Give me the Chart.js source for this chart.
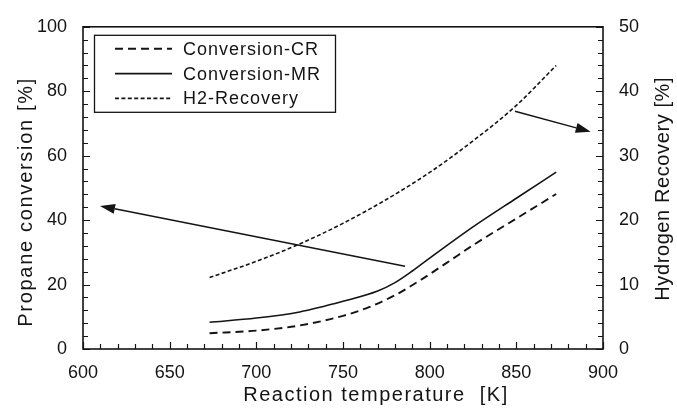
<!DOCTYPE html>
<html>
<head>
<meta charset="utf-8">
<script src="https://cdn.jsdelivr.net/npm/chart.js@4"></script>
<style>
  html, body { margin: 0; padding: 0; background: #fff; }
</style>
</head>
<body>
<canvas id="chart" width="677" height="408"></canvas>
<script>
// values
const tempsCR = [673, 700, 725, 750, 765, 780, 795, 810, 825, 850, 873];
const conversionCR = [4.9, 5.7, 7.3, 10.3, 13.0, 16.7, 21.5, 26.8, 32.2, 40.5, 48.1];
const tempsMR = [673, 700, 725, 750, 770, 780, 790, 800, 825, 850, 873];
const conversionMR = [8.3, 9.6, 11.5, 14.8, 18.0, 20.6, 24.2, 28.2, 37.9, 46.8, 54.9];
const tempsH2 = [673, 700, 725, 750, 775, 800, 825, 850, 873];
const h2Recovery = [11.1, 13.6, 16.3, 19.5, 23.2, 27.4, 32.3, 37.8, 44.0];

const seriesNames = ['Conversion-CR', 'Conversion-MR', 'H2-Recovery'];
const xTitle = 'Reaction temperature  [K]';
const leftTitle = 'Propane conversion [%]';
const rightTitle = 'Hydrogen Recovery [%]';

// arrows pointing at the axis each curve belongs to: [fromK, fromConv, toK, toConv]
const arrows = [
  [785.8, 25.7, 609.8, 44.4],
  [849.2, 73.8, 892.9, 67.4]
];

const FONT = '"Liberation Sans", Arial, sans-serif';
const INK = '#141414';

function points(xs, ys) {
  return xs.map((x, i) => ({x: x, y: ys[i]}));
}

function drawText(ctx, text, x, y, rot, size, spacing) {
  ctx.save();
  ctx.translate(x, y);
  ctx.rotate(rot);
  ctx.font = size + 'px ' + FONT;
  ctx.letterSpacing = spacing + 'px';
  ctx.textAlign = 'center';
  ctx.textBaseline = 'alphabetic';
  ctx.fillText(text, 0, 0);
  ctx.restore();
}

function arrow(ctx, x1, y1, x2, y2) {
  const ang = Math.atan2(y2 - y1, x2 - x1);
  const len = 15, half = 5;
  const bx = x2 - len * Math.cos(ang), by = y2 - len * Math.sin(ang);
  ctx.beginPath();
  ctx.moveTo(x1, y1);
  ctx.lineTo(bx, by);
  ctx.stroke();
  ctx.beginPath();
  ctx.moveTo(x2, y2);
  ctx.lineTo(bx + half * Math.sin(ang), by - half * Math.cos(ang));
  ctx.lineTo(bx - half * Math.sin(ang), by + half * Math.cos(ang));
  ctx.closePath();
  ctx.fill();
}

const chrome = {
  id: 'chrome',
  afterDraw(chart) {
    const {ctx, chartArea: a} = chart;
    const {x, y, y2} = chart.scales;
    ctx.save();
    ctx.strokeStyle = INK;
    ctx.fillStyle = INK;

    // frame
    ctx.lineWidth = 1.6;
    ctx.strokeRect(a.left, a.top, a.right - a.left, a.bottom - a.top);

    // tick marks pointing inward
    ctx.lineWidth = 1.2;
    ctx.beginPath();
    x.ticks.forEach(t => {
      const px = Math.round(x.getPixelForValue(t.value)) + 0.5;
      const len = t.value % 50 === 0 ? 7 : 5;
      ctx.moveTo(px, a.bottom);
      ctx.lineTo(px, a.bottom - len);
    });
    y.ticks.forEach(t => {
      const py = Math.round(y.getPixelForValue(t.value)) + 0.5;
      const len = t.value % 20 === 0 ? 7 : 5;
      ctx.moveTo(a.left, py);
      ctx.lineTo(a.left + len, py);
    });
    y2.ticks.forEach(t => {
      const py = Math.round(y2.getPixelForValue(t.value)) + 0.5;
      const len = t.value % 10 === 0 ? 7 : 5;
      ctx.moveTo(a.right, py);
      ctx.lineTo(a.right - len, py);
    });
    ctx.stroke();

    // arrows
    ctx.lineWidth = 1.5;
    arrows.forEach(r => {
      arrow(ctx, x.getPixelForValue(r[0]), y.getPixelForValue(r[1]),
        x.getPixelForValue(r[2]), y.getPixelForValue(r[3]));
    });

    // legend box
    const lx = a.left + 11, ly = a.top + 8, lw = 241, lh = 77;
    ctx.lineWidth = 1.3;
    ctx.strokeRect(lx + 0.5, ly + 0.5, lw, lh);
    chart.data.datasets.forEach((ds, i) => {
      const ry = ly + 14 + i * 24.8;
      ctx.save();
      ctx.lineWidth = ds.borderWidth;
      ctx.setLineDash(ds.borderDash || []);
      ctx.beginPath();
      ctx.moveTo(lx + 21, ry);
      ctx.lineTo(lx + 78, ry);
      ctx.stroke();
      ctx.restore();
      ctx.save();
      ctx.font = '18px ' + FONT;
      ctx.letterSpacing = '1px';
      ctx.textAlign = 'left';
      ctx.textBaseline = 'middle';
      ctx.fillText(ds.label, lx + 89, ry + 1);
      ctx.restore();
    });

    // axis titles
    drawText(ctx, xTitle, a.left + 293, a.bottom + 52, 0, 20, 1.5);
    drawText(ctx, leftTitle, a.left - 51, a.top + 175, -Math.PI / 2, 20, 1.7);
    drawText(ctx, rightTitle, a.right + 66, a.top + 162, -Math.PI / 2, 20, 0.6);
    ctx.restore();
  }
};

const tickFont = {family: FONT, size: 18};

new Chart(document.getElementById('chart'), {
  type: 'line',
  data: {
    datasets: [
      {
        label: seriesNames[0],
        data: points(tempsCR, conversionCR),
        yAxisID: 'y',
        borderColor: INK,
        borderWidth: 1.9,
        borderDash: [8, 5],
        pointRadius: 0,
        cubicInterpolationMode: 'monotone'
      },
      {
        label: seriesNames[1],
        data: points(tempsMR, conversionMR),
        yAxisID: 'y',
        borderColor: INK,
        borderWidth: 1.6,
        borderDash: [],
        pointRadius: 0,
        cubicInterpolationMode: 'monotone'
      },
      {
        label: seriesNames[2],
        data: points(tempsH2, h2Recovery),
        yAxisID: 'y2',
        borderColor: INK,
        borderWidth: 1.6,
        borderDash: [4, 2.4],
        pointRadius: 0,
        cubicInterpolationMode: 'monotone'
      }
    ]
  },
  options: {
    responsive: false,
    animation: false,
    layout: {padding: {top: 25, left: 0, right: 0, bottom: 0}},
    plugins: {
      legend: {display: false},
      tooltip: {enabled: false}
    },
    scales: {
      x: {
        type: 'linear',
        min: 600,
        max: 900,
        afterFit: s => { s.height = 59; },
        grid: {display: false, drawTicks: false},
        border: {display: false},
        ticks: {
          stepSize: 10,
          autoSkip: false,
          maxRotation: 0,
          padding: 13,
          color: INK,
          font: tickFont,
          callback: v => (v % 50 === 0 ? v : '')
        }
      },
      y: {
        position: 'left',
        min: 0,
        max: 100,
        afterFit: s => { s.width = 83; },
        grid: {display: false, drawTicks: false},
        border: {display: false},
        ticks: {
          stepSize: 4,
          autoSkip: false,
          padding: 16,
          color: INK,
          font: tickFont,
          callback: v => (v % 20 === 0 ? v : '')
        }
      },
      y2: {
        position: 'right',
        min: 0,
        max: 50,
        afterFit: s => { s.width = 74; },
        grid: {display: false, drawTicks: false},
        border: {display: false},
        ticks: {
          stepSize: 2,
          autoSkip: false,
          padding: 16,
          color: INK,
          font: tickFont,
          callback: v => (v % 10 === 0 ? v : '')
        }
      }
    }
  },
  plugins: [chrome]
});
</script>
</body>
</html>
